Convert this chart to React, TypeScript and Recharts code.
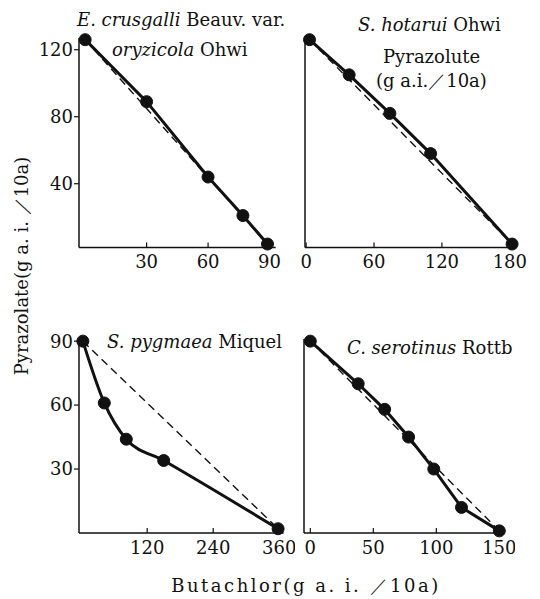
import { LineChart, Line, XAxis, YAxis } from "recharts"

// Butachlor (x) vs Pyrazolate (y) isobolograms, g a.i./10a
const ecButachlor = [0, 30, 60, 77, 89]
const ecPyrazolate = [126, 89, 44, 21, 4]
const shButachlor = [3, 38, 74, 110, 182]
const shPyrazolate = [126, 105, 82, 58, 4]
const spButachlor = [3, 42, 82, 150, 358]
const spPyrazolate = [90, 61, 44, 34, 2]
const csButachlor = [0, 38, 59, 78, 98, 120, 150]
const csPyrazolate = [90, 70, 58, 45, 30, 12, 1]

const ecXTicks = [30, 60, 90]
const ecYTicks = [40, 80, 120]
const shXTicks = [0, 60, 120, 180]
const shYTicks = [40, 80, 120]
const spXTicks = [120, 240, 360]
const spYTicks = [30, 60, 90]
const csXTicks = [0, 50, 100, 150]
const csYTicks = [30, 60, 90]

const FONT = "'DejaVu Serif', 'Liberation Serif', serif"
const INK = "#111"

interface PanelProps {
  xs: number[]
  ys: number[]
  box: { left: number; right: number; top: number; bottom: number }
  xDomain: [number, number]
  yDomain: [number, number]
  xTicks: number[]
  yTicks: number[]
  yLabels: boolean
  curve?: "linear" | "monotone"
}

function Panel({ xs, ys, box, xDomain, yDomain, xTicks, yTicks, yLabels, curve = "linear" }: PanelProps) {
  const points = xs.map((x, i) => ({ x, y: ys[i] }))
  const additive = [points[0], points[points.length - 1]]
  const padL = 50
  const padT = 12
  const padR = 12
  const padB = 40
  const width = box.right - box.left + padL + padR
  const height = box.bottom - box.top + padT + padB
  const tickStyle = { fontFamily: FONT, fontSize: 18, fill: INK }

  return (
    <div style={{ position: "absolute", left: box.left - padL, top: box.top - padT }}>
      <LineChart width={width} height={height} margin={{ top: padT, right: padR, bottom: 0, left: 0 }}>
        <XAxis
          type="number"
          dataKey="x"
          domain={xDomain}
          ticks={xTicks}
          height={padB}
          tickSize={-5}
          tickMargin={13}
          tick={tickStyle}
          axisLine={{ stroke: INK, strokeWidth: 1.5 }}
          tickLine={{ stroke: INK, strokeWidth: 1.2 }}
        />
        <YAxis
          type="number"
          dataKey="y"
          domain={yDomain}
          ticks={yTicks}
          width={padL}
          tickSize={yLabels ? 5 : -5}
          tickMargin={yLabels ? 1 : 0}
          tick={yLabels ? tickStyle : false}
          axisLine={{ stroke: INK, strokeWidth: 1.5 }}
          tickLine={{ stroke: INK, strokeWidth: 1.2 }}
        />
        <Line
          data={additive}
          dataKey="y"
          type="linear"
          stroke={INK}
          strokeWidth={1.4}
          strokeDasharray="8 5"
          dot={false}
          isAnimationActive={false}
        />
        <Line
          data={points}
          dataKey="y"
          type={curve}
          stroke={INK}
          strokeWidth={3}
          dot={{ r: 6, fill: INK, stroke: INK, strokeWidth: 1 }}
          isAnimationActive={false}
        />
      </LineChart>
    </div>
  )
}

const text = (left: number, top: number, extra: React.CSSProperties = {}): React.CSSProperties => ({
  position: "absolute",
  left,
  top,
  fontFamily: FONT,
  fontSize: 18,
  color: INK,
  whiteSpace: "nowrap",
  lineHeight: "20px",
  ...extra,
})

export default function App() {
  return (
    <div style={{ position: "absolute", left: 0, top: 0, width: 540, height: 599, background: "#fff" }}>
      <Panel
        xs={ecButachlor}
        ys={ecPyrazolate}
        box={{ left: 79.3, right: 276, top: 38.3, bottom: 247.7 }}
        xDomain={[-3, 93]}
        yDomain={[2, 127]}
        xTicks={ecXTicks}
        yTicks={ecYTicks}
        yLabels
      />
      <Panel
        xs={shButachlor}
        ys={shPyrazolate}
        box={{ left: 305.4, right: 517, top: 38.3, bottom: 247.7 }}
        xDomain={[-1, 186]}
        yDomain={[2, 127]}
        xTicks={shXTicks}
        yTicks={shYTicks}
        yLabels={false}
      />
      <Panel
        xs={spButachlor}
        ys={spPyrazolate}
        box={{ left: 78.8, right: 283.4, top: 339, bottom: 533 }}
        xDomain={[-4, 368]}
        yDomain={[0, 91]}
        xTicks={spXTicks}
        yTicks={spYTicks}
        yLabels
        curve="monotone"
      />
      <Panel
        xs={csButachlor}
        ys={csPyrazolate}
        box={{ left: 303.7, right: 502.8, top: 339, bottom: 533 }}
        xDomain={[-5, 153]}
        yDomain={[0, 91]}
        xTicks={csXTicks}
        yTicks={csYTicks}
        yLabels={false}
      />

      <div style={text(77, 10)}>
        <i>E. crusgalli</i> Beauv. var.
      </div>
      <div style={text(112, 40)}>
        <i>oryzicola</i> Ohwi
      </div>
      <div style={text(358, 15)}>
        <i>S. hotarui</i> Ohwi
      </div>
      <div style={text(383, 47)}>Pyrazolute</div>
      <div style={text(376, 71)}>(g a.i.／10a)</div>
      <div style={text(107, 332)}>
        <i>S. pygmaea</i> Miquel
      </div>
      <div style={text(347, 338)}>
        <i>C. serotinus</i> Rottb
      </div>

      <div
        style={text(22, 266, {
          transform: "translate(-50%, -50%) rotate(-90deg)",
        })}
      >
        Pyrazolate(g a. i. ／10a)
      </div>
      <div style={text(306, 576, { transform: "translateX(-50%)", letterSpacing: 2.5 })}>
        Butachlor(g a. i. ／10a)
      </div>
    </div>
  )
}
